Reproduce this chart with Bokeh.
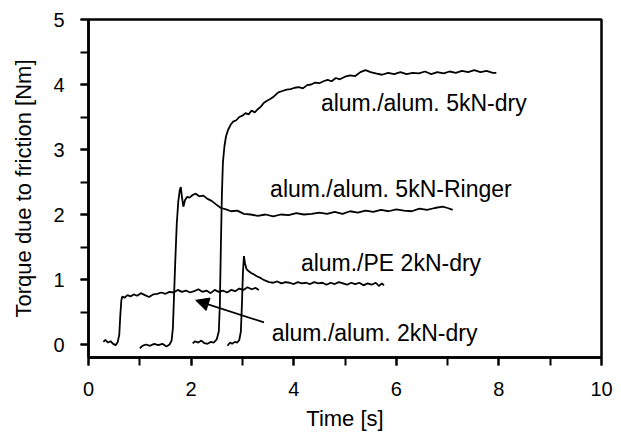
from bokeh.plotting import figure
from bokeh.models import (Range1d, SingleIntervalTicker, Arrow, NormalHead, ColumnDataSource)
from bokeh.core.properties import value
from bokeh.embed import file_html
from bokeh.resources import INLINE

# ---- data ----
# alum./alum. 2kN-dry
t_a2 = [0.29, 0.33, 0.38, 0.43, 0.48, 0.53, 0.57, 0.60, 0.62, 0.64, 0.66, 0.70, 0.76, 0.82, 0.88,
        0.95, 1.02, 1.10, 1.18, 1.26, 1.34, 1.42, 1.50, 1.58, 1.66, 1.74, 1.82, 1.90, 1.98, 2.06,
        2.14, 2.22, 2.30, 2.38, 2.46, 2.54, 2.62, 2.70, 2.78, 2.86, 2.94, 3.02, 3.10, 3.18, 3.26, 3.32]
m_a2 = [0.04, 0.07, 0.03, 0.05, 0.01, -0.01, 0.04, 0.15, 0.45, 0.68, 0.74, 0.72, 0.76, 0.74, 0.77,
        0.75, 0.79, 0.76, 0.73, 0.77, 0.78, 0.80, 0.78, 0.81, 0.80, 0.84, 0.81, 0.83, 0.80, 0.82,
        0.85, 0.81, 0.83, 0.79, 0.84, 0.81, 0.83, 0.80, 0.84, 0.82, 0.86, 0.84, 0.88, 0.85, 0.87, 0.84]

# alum./alum. 5kN-Ringer
t_r5 = [1.00, 1.05, 1.12, 1.20, 1.28, 1.36, 1.44, 1.52, 1.58, 1.62, 1.645, 1.665, 1.69, 1.72, 1.75,
        1.78, 1.80, 1.82, 1.85, 1.88, 1.92, 1.97, 2.03, 2.09, 2.16, 2.24, 2.32, 2.40, 2.48, 2.58,
        2.68, 2.78, 2.90, 3.03, 3.16, 3.30, 3.45, 3.60, 3.75, 3.90, 4.05, 4.20, 4.35, 4.50, 4.65,
        4.80, 4.95, 5.10, 5.25, 5.40, 5.55, 5.70, 5.85, 6.00, 6.15, 6.30, 6.45, 6.60, 6.75, 6.90,
        7.00, 7.10]
m_r5 = [-0.06, -0.02, 0.00, -0.02, 0.01, -0.01, 0.01, -0.03, 0.00, 0.06, 0.25, 0.70, 1.25, 1.85, 2.20,
        2.38, 2.42, 2.28, 2.12, 2.22, 2.27, 2.26, 2.30, 2.32, 2.28, 2.29, 2.24, 2.21, 2.16, 2.10,
        2.08, 2.05, 2.06, 2.01, 2.00, 1.98, 2.00, 1.97, 2.00, 1.99, 2.02, 2.00, 2.01, 2.03, 2.01,
        2.04, 2.01, 2.05, 2.03, 2.06, 2.04, 2.07, 2.05, 2.08, 2.06, 2.05, 2.09, 2.07, 2.10, 2.12,
        2.10, 2.07]

# alum./alum. 5kN-dry
t_d5 = [2.03, 2.08, 2.14, 2.20, 2.26, 2.32, 2.38, 2.44, 2.50, 2.54, 2.56, 2.58, 2.60, 2.62, 2.65,
        2.68, 2.72, 2.77, 2.82, 2.88, 2.94, 3.00, 3.06, 3.12, 3.18, 3.24, 3.30, 3.36, 3.42, 3.48,
        3.55, 3.62, 3.70, 3.78, 3.86, 3.94, 4.02, 4.10, 4.18, 4.26, 4.34, 4.42, 4.50, 4.58, 4.66,
        4.74, 4.82, 4.90, 5.00, 5.10, 5.20, 5.30, 5.40, 5.50, 5.60, 5.72, 5.84, 5.96, 6.08, 6.20,
        6.32, 6.44, 6.56, 6.68, 6.80, 6.92, 7.04, 7.16, 7.28, 7.40, 7.52, 7.64, 7.76, 7.88, 7.95]
m_d5 = [0.02, 0.05, 0.03, 0.06, 0.02, 0.01, 0.04, 0.03, 0.08, 0.20, 0.60, 1.50, 2.30, 2.80, 3.05,
        3.20, 3.30, 3.38, 3.43, 3.45, 3.50, 3.52, 3.56, 3.54, 3.60, 3.57, 3.62, 3.66, 3.72, 3.75,
        3.78, 3.82, 3.88, 3.90, 3.92, 3.93, 3.95, 3.96, 3.94, 3.99, 4.00, 4.03, 4.02, 4.05, 4.07,
        4.05, 4.10, 4.08, 4.12, 4.14, 4.13, 4.19, 4.22, 4.19, 4.17, 4.15, 4.18, 4.16, 4.19, 4.16,
        4.18, 4.17, 4.20, 4.16, 4.19, 4.17, 4.20, 4.18, 4.21, 4.19, 4.22, 4.19, 4.21, 4.18, 4.18]

# alum./PE 2kN-dry
t_pe = [2.71, 2.76, 2.80, 2.85, 2.90, 2.94, 2.97, 2.99, 3.01, 3.03, 3.05, 3.08, 3.12, 3.17, 3.22,
        3.28, 3.34, 3.40, 3.46, 3.52, 3.60, 3.68, 3.76, 3.84, 3.92, 4.00, 4.08, 4.16, 4.24, 4.32,
        4.40, 4.48, 4.56, 4.64, 4.72, 4.80, 4.88, 4.96, 5.04, 5.12, 5.20, 5.28, 5.36, 5.44, 5.52,
        5.60, 5.66, 5.72, 5.76]
m_pe = [-0.02, 0.03, 0.01, 0.04, 0.03, 0.07, 0.20, 0.60, 1.10, 1.36, 1.25, 1.16, 1.13, 1.10, 1.08,
        1.05, 1.03, 1.00, 0.98, 0.96, 0.95, 0.97, 0.94, 0.96, 0.95, 0.93, 0.96, 0.94, 0.95, 0.93,
        0.96, 0.94, 0.95, 0.92, 0.95, 0.93, 0.96, 0.94, 0.92, 0.95, 0.93, 0.95, 0.91, 0.94, 0.92,
        0.95, 0.90, 0.94, 0.91]

label_texts = ["alum./alum. 5kN-dry", "alum./alum. 5kN-Ringer", "alum./PE 2kN-dry", "alum./alum. 2kN-dry"]
label_x = [4.53, 3.54, 4.14, 3.57]
label_y = [3.71, 2.40, 1.26, 0.17]

arrow_tail = (3.42, 0.34)
arrow_head = (2.09, 0.68)

x_min, x_max = 0, 10
y_min, y_max = -0.2, 5

# ---- figure ----
p = figure(width=621, height=433, output_backend="svg", toolbar_location=None,
           x_range=Range1d(x_min, x_max), y_range=Range1d(y_min, y_max),
           min_border_left=88, min_border_right=20, min_border_top=19, min_border_bottom=76)
p.grid.visible = False
p.outline_line_color = "black"
p.outline_line_width = 2.5

font = "Liberation Sans"

p.xaxis.ticker = SingleIntervalTicker(interval=2, num_minor_ticks=2)
p.yaxis.ticker = SingleIntervalTicker(interval=1, num_minor_ticks=2)

for ax in (p.xaxis, p.yaxis):
    ax.axis_line_width = 2.5
    ax.axis_line_color = "black"
    ax.major_tick_line_width = 2
    ax.minor_tick_line_width = 2
    ax.major_tick_line_color = "black"
    ax.minor_tick_line_color = "black"
    ax.major_tick_in = 0
    ax.minor_tick_in = 0
    ax.major_tick_out = 8
    ax.minor_tick_out = 8
    ax.major_label_text_font = font
    ax.major_label_text_font_size = "20px"
    ax.major_label_text_color = "black"
    ax.axis_label_text_font = font
    ax.axis_label_text_font_size = "22px"
    ax.axis_label_text_font_style = "normal"
    ax.axis_label_text_color = "black"

p.xaxis.axis_label = "Time [s]"
p.yaxis.axis_label = "Torque due to friction [Nm]"
p.xaxis.major_label_standoff = 16
p.xaxis.axis_label_standoff = 7
p.yaxis.major_label_standoff = 16
p.yaxis.axis_label_standoff = 14

for t, m in ((t_a2, m_a2), (t_r5, m_r5), (t_d5, m_d5), (t_pe, m_pe)):
    p.line(t, m, line_color="black", line_width=1.8)

src = ColumnDataSource(dict(x=label_x, y=label_y, text=label_texts))
p.text(x="x", y="y", text="text", source=src, text_font=value(font),
       text_font_size="23px", text_align="left", text_baseline="middle", text_color="black")

p.add_layout(Arrow(x_start=arrow_tail[0], y_start=arrow_tail[1], x_end=arrow_head[0], y_end=arrow_head[1],
                   line_color="black", line_width=1.8,
                   end=NormalHead(size=13, fill_color="black", line_color="black", line_width=1)))

open("out.html", "w").write(file_html(p, INLINE))
